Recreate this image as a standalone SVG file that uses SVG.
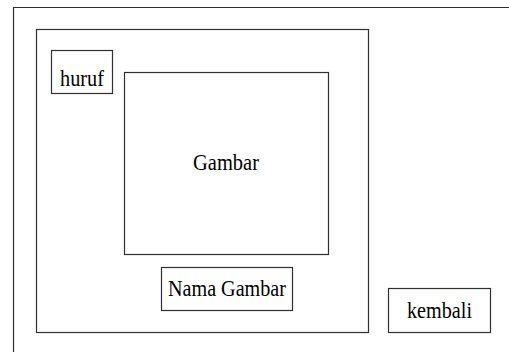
<svg xmlns="http://www.w3.org/2000/svg" width="509" height="352" viewBox="0 0 509 352">
  <style>
    .box { fill: #ffffff; stroke: #303030; stroke-width: 1.2; }
    .frame { fill: none; stroke: #303030; stroke-width: 1.2; }
    .label { font-family: "Liberation Serif", "Times New Roman", serif; font-size: 23.5px; fill: #000000; text-anchor: middle; }
  </style>
  <rect width="509" height="352" fill="#ffffff"/>
  <!-- screen frame (open on the right and bottom) -->
  <g id="screen">
    <path class="frame" d="M13.5,352 V7.5 H509"/>
  </g>
  <!-- content panel -->
  <g id="panel">
    <rect class="box" x="36.5" y="29.5" width="332" height="303"/>
  </g>
  <g id="huruf">
    <rect class="box" x="51.5" y="50.5" width="61" height="43"/>
    <text class="label" x="82" y="86" textLength="44" lengthAdjust="spacingAndGlyphs">huruf</text>
  </g>
  <g id="gambar">
    <rect class="box" x="124.5" y="72.5" width="204" height="182"/>
    <text class="label" x="226" y="170" textLength="66" lengthAdjust="spacingAndGlyphs">Gambar</text>
  </g>
  <g id="nama-gambar">
    <rect class="box" x="161.5" y="267.5" width="131" height="43"/>
    <text class="label" x="227" y="296" textLength="118" lengthAdjust="spacingAndGlyphs">Nama Gambar</text>
  </g>
  <g id="kembali">
    <rect class="box" x="388.5" y="288.5" width="102" height="44"/>
    <text class="label" x="439.5" y="318" textLength="65" lengthAdjust="spacingAndGlyphs">kembali</text>
  </g>
  <g id="connectors"/>
</svg>
